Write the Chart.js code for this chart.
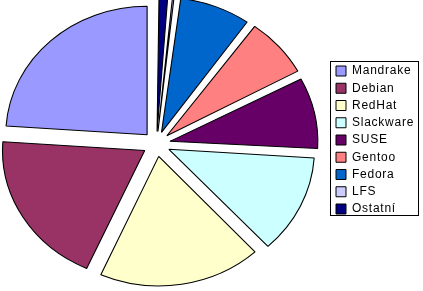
<!DOCTYPE html>
<html>
<head>
<meta charset="utf-8">
<script src="https://cdn.jsdelivr.net/npm/chart.js@4.4.0/dist/chart.umd.min.js"></script>
<style>
  html, body { margin: 0; padding: 0; background: #fff; }
  canvas { display: block; }
</style>
</head>
<body>
<canvas id="graf" width="423" height="291"></canvas>
<script>
// distribuce (podíl v %), pořadí jako v legendě
const distribuce = ['Mandrake', 'Debian', 'RedHat', 'Slackware', 'SUSE', 'Gentoo', 'Fedora', 'LFS', 'Ostatní'];
const podil = [23.9, 19.4, 18.5, 12.2, 8.75, 7.3, 7.95, 0.6, 1.35];
const barvy = ['#9999FF', '#993366', '#FFFFCC', '#CCFFFF', '#660066', '#FF8080', '#0066CC', '#CCCCFF', '#000080'];

// Excel kreslí koláč proti směru hodinek, Chart.js po směru -> otočit pořadí
const labelsOtoc = distribuce.slice().reverse();
const dataOtoc = podil.slice().reverse();
const barvyOtoc = barvy.slice().reverse();

// legenda vpravo s rámečkem a trochu roztaženým písmem
const legendaRamecek = {
    id: 'legendaRamecek',
    beforeUpdate(chart) { chart.ctx.letterSpacing = '0.75px'; },
    beforeDraw(chart) { chart.ctx.letterSpacing = '0.75px'; },
    afterLayout(chart) {
        const lg = chart.legend;
        lg.left = 330.75;
        lg.top = 59.75;
        lg.right = 423;
        lg.bottom = 291;
        lg.width = lg.right - lg.left;
        lg.height = lg.bottom - lg.top;
    },
    afterDraw(chart) {
        const boxes = chart.legend.legendHitBoxes;
        if (!boxes.length) return;
        const ctx = chart.ctx;
        let right = 0;
        boxes.forEach(b => { right = Math.max(right, b.left + b.width); });
        const last = boxes[boxes.length - 1];
        const x0 = 330.5, y0 = 61.5;
        ctx.save();
        ctx.strokeStyle = '#000';
        ctx.lineWidth = 1;
        ctx.strokeRect(x0, y0, Math.round(right) + 4.5 - x0, Math.round(last.top + last.height) + 0.5 - y0);
        ctx.restore();
    }
};

// koláč v Excelu je lehce eliptický
const elipsa = {
    id: 'elipsa',
    beforeDatasetsDraw(chart) {
        const arc = chart.getDatasetMeta(0).data[0];
        const ctx = chart.ctx;
        ctx.save();
        ctx.translate(arc.x, arc.y);
        ctx.scale(1.1, 1);
        ctx.translate(-arc.x, -arc.y);
    },
    afterDatasetsDraw(chart) {
        chart.ctx.restore();
    }
};

Chart.defaults.font.family = '"Liberation Sans", Arial, sans-serif';
Chart.defaults.color = '#000';

new Chart(document.getElementById('graf'), {
    type: 'pie',
    data: {
        labels: labelsOtoc,
        datasets: [{
            data: dataOtoc,
            backgroundColor: barvyOtoc,
            borderColor: '#000',
            borderWidth: 1,
            offset: 50
        }]
    },
    options: {
        responsive: false,
        animation: false,
        radius: 128.5,
        layout: { padding: { left: 0, right: 110, top: 0, bottom: 3 } },
        plugins: {
            legend: {
                position: 'chartArea',
                align: 'start',
                reverse: true,
                labels: {
                    boxWidth: 10,
                    boxHeight: 10,
                    padding: 5.25,
                    font: { size: 12 }
                }
            },
            tooltip: { enabled: false }
        }
    },
    plugins: [legendaRamecek, elipsa]
});
</script>
</body>
</html>
